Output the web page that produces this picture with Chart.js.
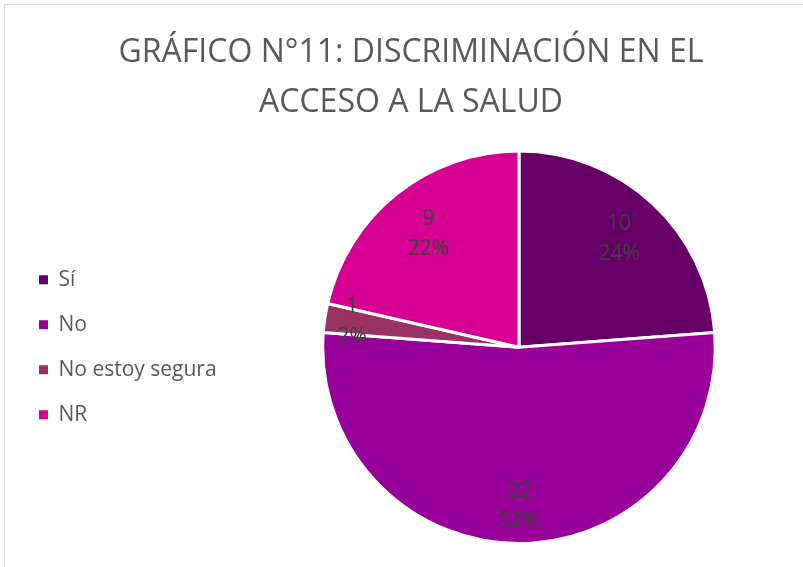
<!DOCTYPE html>
<html>
<head>
<meta charset="utf-8">
<script src="https://cdn.jsdelivr.net/npm/chart.js@4"></script>
<style>
    html, body { margin: 0; padding: 0; background: #fff; }
    #frame { position: absolute; left: 4px; top: 4px; width: 840px; height: 600px; border: 1px solid #d9d9d9; }
    #chart { position: absolute; left: 0; top: 0; }
</style>
</head>
<body>
<div id="frame"></div>
<canvas id="chart" width="803" height="567"></canvas>
<script>
const categories = ["Sí", "No", "No estoy segura", "NR"];
const counts = [10, 22, 1, 9];
const percentLabels = ["24%", "52%", "2%", "22%"];
const sliceColors = ["#660066", "#990099", "#993366", "#d60093"];
const titleLines = ["GRÁFICO N°11: DISCRIMINACIÓN EN EL", "ACCESO A LA SALUD"];

// how far out (fraction of radius) each label sits
const labelRadius = [0.75, 0.81, 0.86, 0.74];

const fontFamily = "'Open Sans', sans-serif";
const legendWidth = 220;

const legendWidthPlugin = {
    id: "legendWidth",
    afterInit(chart) {
        const legend = chart.legend;
        if (!legend) {
            return;
        }
        const fit = legend.fit;
        legend.fit = function () {
            fit.call(this);
            this.width = legendWidth;
        };
    }
};

const sliceLabels = {
    id: "sliceLabels",
    afterDatasetsDraw(chart) {
        const ctx = chart.ctx;
        const meta = chart.getDatasetMeta(0);
        ctx.save();
        ctx.fillStyle = "#404040";
        ctx.font = "21px " + fontFamily;
        ctx.textAlign = "center";
        ctx.textBaseline = "middle";
        meta.data.forEach((arc, i) => {
            const p = arc.getProps(["x", "y", "startAngle", "endAngle", "outerRadius"], true);
            const mid = (p.startAngle + p.endAngle) / 2;
            const r = p.outerRadius * labelRadius[i];
            const x = p.x + Math.cos(mid) * r;
            const y = p.y + Math.sin(mid) * r;
            ctx.fillText(String(counts[i]), x, y - 15);
            ctx.fillText(percentLabels[i], x, y + 15);
        });
        ctx.restore();
    }
};

new Chart(document.getElementById("chart"), {
    type: "pie",
    data: {
        labels: categories,
        datasets: [{
            data: counts,
            backgroundColor: sliceColors,
            borderColor: "#ffffff",
            borderWidth: 3
        }]
    },
    options: {
        responsive: false,
        animation: false,
        devicePixelRatio: 1,
        layout: {
            padding: { left: 15, right: -4, top: 0, bottom: 22 }
        },
        plugins: {
            title: {
                display: true,
                text: titleLines,
                color: "#595959",
                font: { family: fontFamily, size: 32, weight: "normal", lineHeight: 50 / 32 },
                padding: { top: 27.5, bottom: 22 }
            },
            legend: {
                position: "left",
                align: "center",
                fullSize: false,
                labels: {
                    color: "#595959",
                    font: { family: fontFamily, size: 21 },
                    boxWidth: 9,
                    boxHeight: 9,
                    padding: 24,
                    generateLabels(chart) {
                        const base = Chart.overrides.pie.plugins.legend.labels.generateLabels(chart);
                        return base.map(item => ({ ...item, lineWidth: 0, strokeStyle: item.fillStyle }));
                    }
                }
            },
            tooltip: { enabled: false }
        }
    },
    plugins: [legendWidthPlugin, sliceLabels]
});
</script>
</body>
</html>
